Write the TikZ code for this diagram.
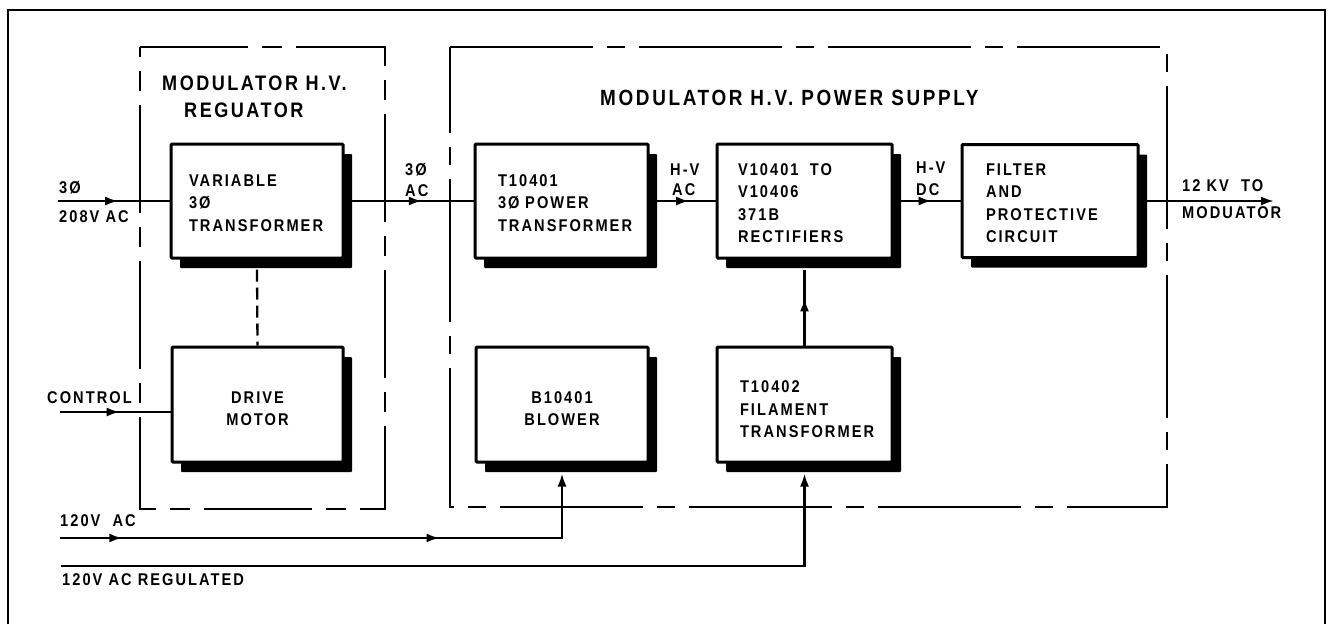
\documentclass[tikz,border=0pt]{standalone}
\usepackage{fontspec}
\setmainfont{Liberation Sans}
\newfontfamily\lblfont{Liberation Sans}[LetterSpace=12, FakeStretch=0.86]
\usetikzlibrary{arrows.meta,decorations.markings,shadows}
\tikzset{
  lbl/.style={font=\lblfont\bfseries\fontsize{17}{22}\selectfont, inner sep=0pt, anchor=west},
  ttl/.style={font=\lblfont\bfseries\fontsize{#1}{26}\selectfont, inner sep=0pt, anchor=west},
  blk/.style={draw, line width=3pt, fill=white, rounded corners=1pt,
    drop shadow={shadow xshift=9pt, shadow yshift=-10pt, fill=black, opacity=1},
    font=\lblfont\bfseries\fontsize{17}{22.5}\selectfont, inner ysep=0pt},
  lowtext/.style={text height=#1},
  wire/.style={line width=2.3pt},
  tipA/.style={-{Latex[length=13pt,width=9pt]}},
  marr/.style={postaction={decorate}, decoration={markings,
    mark=at position #1 with {\arrow{Latex[length=13pt,width=9pt]}}}},
  encl/.style={line width=2.3pt, dash pattern=#1},
}
\begin{document}
\begin{tikzpicture}[x=1pt,y=-1pt]
\useasboundingbox (0,0) rectangle (1329,624);
% outer frame
\draw[line width=2.3pt] (8,624) -- (8,10) -- (1325,10) -- (1325,624);
% enclosures
\draw[encl={on 108pt off 14pt on 20pt off 14pt}] (140,47) -- (385,47) -- (385,509) -- (140,509) -- cycle;
\draw[encl={on 143pt off 14pt on 18pt off 14pt}] (450,47) -- (1167,47) -- (1167,507) -- (450,507) -- cycle;
% titles
\node[ttl=21] (t1a) at (162,83) {MODULATOR H.V.};
\node[ttl=21] (t1b) at (184,110) {REGUATOR};
\node[ttl=22] (t2a) at (600,98) {MODULATOR H.V. POWER SUPPLY};
% blocks
\node[blk, lowtext=16pt, minimum width=172pt, minimum height=114pt, text width=136pt, inner xsep=18pt, align=left] (var) at (257,201) {VARIABLE\\3Ø\\TRANSFORMER};
\node[blk, lowtext=20pt, minimum width=171pt, minimum height=115pt, text width=131pt, inner xsep=20pt, align=center] (drv) at (257.5,404.5) {DRIVE\\MOTOR};
\node[blk, lowtext=16pt, minimum width=173pt, minimum height=114pt, text width=127pt, inner xsep=23pt, align=left] (t1) at (561.5,201) {T10401\\3Ø POWER\\TRANSFORMER};
\node[blk, lowtext=16pt, minimum width=175pt, minimum height=114pt, text width=133pt, inner xsep=21pt, align=left] (rect) at (804.5,201) {V10401 \ TO\\V10406\\371B\\RECTIFIERS};
\node[blk, lowtext=16pt, minimum width=176pt, minimum height=113pt, text width=128pt, inner xsep=24pt, align=left] (filt) at (1050,201) {FILTER\\AND\\PROTECTIVE\\CIRCUIT};
\node[blk, lowtext=20pt, minimum width=172pt, minimum height=115pt, text width=132pt, inner xsep=20pt, align=center] (blow) at (562,404.5) {B10401\\BLOWER};
\node[blk, lowtext=22pt, minimum width=175pt, minimum height=115pt, text width=129pt, inner xsep=23pt, align=left] (t2) at (804.5,404.5) {T10402\\FILAMENT\\TRANSFORMER};
% free ends
\coordinate (in3) at (58,201);
\coordinate (outend) at (1274,201);
\coordinate (ctl) at (60,412);
\coordinate (ac) at (60,538);
\coordinate (reg) at (61,566);
% connectors
\draw[wire, marr=0.54] (in3) -- (var);
\draw[wire, marr=0.6] (var) -- (t1);
\draw[wire, marr=0.6] (t1) -- (rect);
\draw[wire, marr=0.57] (rect) -- (filt);
\draw[wire, tipA] (filt) -- (outend);
\draw[wire, dash pattern=on 12pt off 6pt] ([yshift=-10pt]var.south) -- (drv.north);
\draw[wire, marr=0.54] (ctl) -- (ctl -| drv.west);
\draw[wire, tipA, postaction={decorate}, decoration={markings,
    mark=at position 0.11 with {\arrow{Latex[length=13pt,width=9pt]}},
    mark=at position 0.67 with {\arrow{Latex[length=13pt,width=9pt]}}}]
  (ac) -- (ac -| blow.south) -- ([yshift=-10pt]blow.south);
\draw[wire, tipA] (reg) -- (reg -| t2.south) -- ([yshift=-10pt]t2.south);
\draw[wire, marr=0.62] (t2) -- ([yshift=-10pt]rect.south);
% labels
\node[lbl] (l1) at (59,188) {3Ø};
\node[lbl] (l2) at (59,217) {208V AC};
\node[lbl] (l3) at (405,170) {3Ø};
\node[lbl] (l4) at (405,191) {AC};
\node[lbl] (l5) at (670,170) {H-V};
\node[lbl] (l6) at (672,190) {AC};
\node[lbl] (l7) at (916,168) {H-V};
\node[lbl] (l8) at (916,190) {DC};
\node[lbl] (l9) at (1182,186) {12 KV \ TO};
\node[lbl] (l10) at (1182,213) {MODUATOR};
\node[lbl] (l11) at (47,398) {CONTROL};
\node[lbl] (l12) at (60,521) {120V \ AC};
\node[lbl] (l13) at (62,580) {120V AC REGULATED};
\end{tikzpicture}
\end{document}
